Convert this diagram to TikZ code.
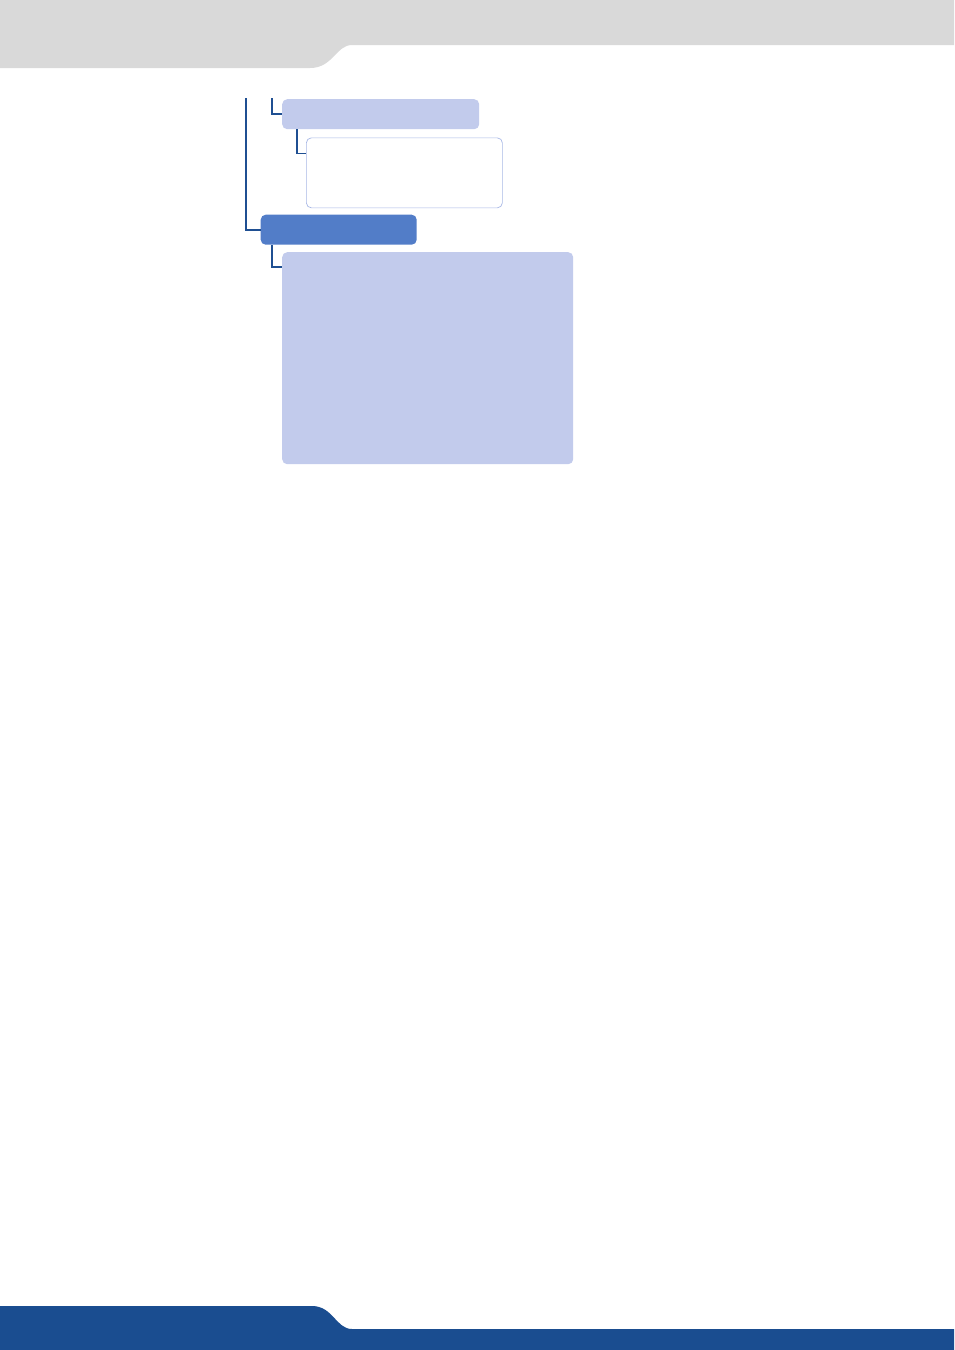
\documentclass[tikz,border=0pt]{standalone}
\usepackage{xcolor}

\definecolor{headGray}{HTML}{D9D9D9}
\definecolor{footBlue}{HTML}{1A4D90}
\definecolor{lineBlue}{HTML}{1F4F92}
\definecolor{paleItem}{HTML}{C2CBEC}
\definecolor{strongItem}{HTML}{527DC8}
\definecolor{edgeItem}{HTML}{A8B8E6}

\begin{document}
\begin{tikzpicture}[x=1pt, y=-1pt,
    itembox/.style={anchor=north west, inner sep=0pt, rounded corners=5pt},
    paleBox/.style={itembox, fill=paleItem},
    strongBox/.style={itembox, fill=strongItem},
    openBox/.style={itembox, fill=white, draw=edgeItem, line width=0.7pt},
    link/.style={draw=lineBlue, line width=1.7pt}]
      \useasboundingbox (0,0) rectangle (954,1350);
      % header band
      \fill[headGray] (0,0) -- (954,0) -- (954,45) -- (352,45)
        .. controls (336,45) and (333,68) .. (310,68) -- (0,68) -- cycle;
      % footer band
      \fill[footBlue] (0,1306) -- (312,1306)
        .. controls (333,1306) and (336,1329) .. (352,1329)
        -- (954,1329) -- (954,1350) -- (0,1350) -- cycle;

      % topItem:
      %   first entry under the trunk
      \node[paleBox, minimum width=197pt, minimum height=30pt] (topItem) at (282,99) {};
      % subItem:
      %   open box hanging off topItem
      \node[openBox, minimum width=196pt, minimum height=70pt] (subItem) at (306,137.5) {};
      % mainItem:
      %   highlighted entry at the end of the trunk
      \node[strongBox, minimum width=156pt, minimum height=30pt] (mainItem) at (260.5,214.5) {};
      % detailItem:
      %   large box under mainItem
      \node[paleBox, minimum width=291pt, minimum height=212pt] (detailItem) at (282,252) {};

      \coordinate (trunk) at (245.7,98);
      \coordinate (topStub) at (271.7,98);

      \draw[link] (trunk) |- (mainItem.west);
      \draw[link] (topStub) |- (topItem.west);
        \draw[link] ([xshift=15pt]topItem.south west) |- ([yshift=-16pt]subItem.north west);
      \draw[link] ([xshift=11.2pt]mainItem.south west) |- ([yshift=-15pt]detailItem.north west);
    \end{tikzpicture}
\end{document}
